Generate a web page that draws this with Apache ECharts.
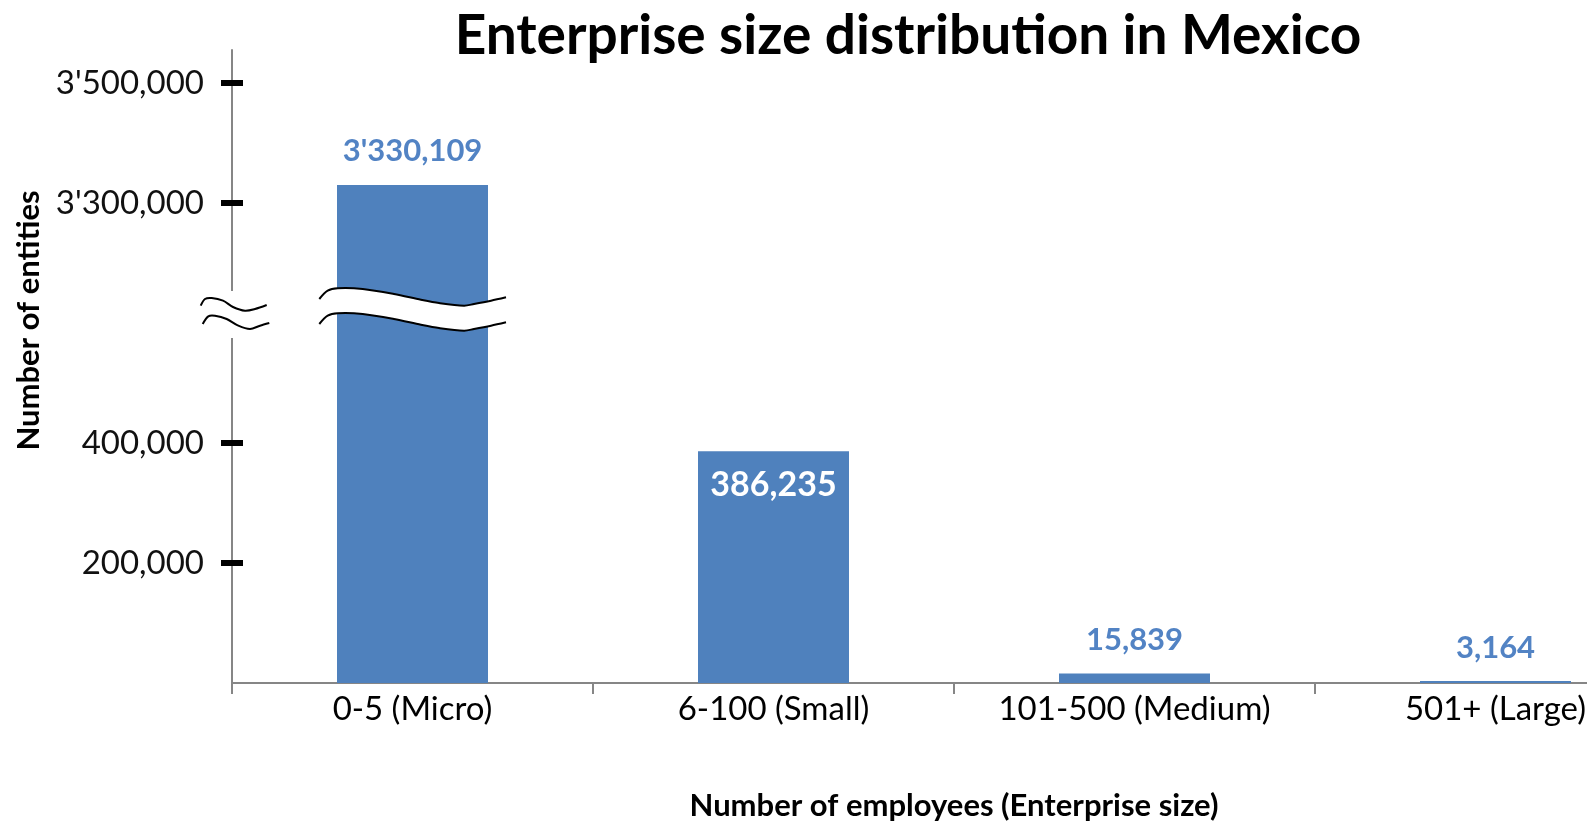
<!DOCTYPE html>
<html>
<head>
<meta charset="utf-8">
<script src="https://cdn.jsdelivr.net/npm/echarts@6/dist/echarts.min.js"></script>
<style>
  html, body { margin: 0; padding: 0; background: #fff; overflow: hidden; }
  body { width: 1587px; height: 822px; }
  /* the plot runs past the right edge of the page, so the canvas is wider */
  #chart { width: 1720px; height: 822px; }
</style>
</head>
<body>
<div id="chart"></div>
<script>
// Enterprise counts by size class
const categories = ['0-5 (Micro)', '6-100 (Small)', '101-500 (Medium)', '501+ (Large)'];
const entities = [3330109, 386235, 15839, 3164];
// Tick values shown on the value axis (real values)
const tickValues = [200000, 400000, 3300000, 3500000];

// Broken axis: everything above the break is shifted down by this amount
const BREAK_SHIFT = 2500000;
const BREAK_FROM = 700000;      // real values above this sit above the break
const BREAK_POS = 620000;       // plotted position of the break symbol
const AXIS_MAX = 1055000;       // plotted top of the axis

function toPlot(v) { return v > BREAK_FROM ? v - BREAK_SHIFT : v; }
function toReal(p) { return p > BREAK_FROM - 100000 ? p + BREAK_SHIFT : p; }

function fmt(n) {
  n = Math.round(n);
  const m = Math.floor(n / 1000000);
  const rest = n % 1000000;
  const th = Math.floor(rest / 1000);
  const un = rest % 1000;
  const pad = (x) => String(x).padStart(3, '0');
  if (m > 0) return m + "'" + pad(th) + ',' + pad(un);
  if (th > 0) return th + ',' + pad(un);
  return String(un);
}

const BAR = '#4F81BD';
const FONT = 'Lato, "Open Sans", sans-serif';
const tickPlot = tickValues.map(toPlot);

const chart = echarts.init(document.getElementById('chart'), null, { renderer: 'canvas' });

const seriesData = entities.map((v, i) => {
  const inside = i === 1;
  return {
    value: toPlot(v),
    label: inside
      ? { position: 'insideTop', distance: 17, color: '#ffffff', fontSize: 34 }
      : { position: 'top', distance: 18, color: '#5283C4' }
  };
});

chart.setOption({
  animation: false,
  backgroundColor: '#ffffff',
  textStyle: { fontFamily: FONT },
  title: {
    text: 'Enterprise size distribution in Mexico',
    left: 903,
    textAlign: 'center',
    top: 4,
    textStyle: { fontSize: 55, fontWeight: 'bold', color: '#000', fontFamily: FONT }
  },
  grid: { left: 232, top: 50, width: 1444, height: 633, containLabel: false, outerBoundsMode: 'none' },
  xAxis: {
    type: 'category',
    data: categories,
    axisLine: { lineStyle: { color: '#868686', width: 2 } },
    axisTick: { show: true, length: 11, lineStyle: { color: '#868686', width: 2 } },
    axisLabel: { interval: 0, fontSize: 33, color: '#000', margin: 10, fontFamily: FONT },
    name: 'Number of employees (Enterprise size)',
    nameLocation: 'middle',
    nameGap: 107,
    nameTextStyle: { fontSize: 31, fontWeight: 'bold', color: '#000', fontFamily: FONT }
  },
  yAxis: [
    {
      type: 'value',
      min: 0,
      max: AXIS_MAX,
      splitLine: { show: false },
      axisLine: { show: true, lineStyle: { color: '#868686', width: 2 } },
      axisTick: { show: true, length: 11, customValues: tickPlot, lineStyle: { color: '#000', width: 6 } },
      axisLabel: {
        customValues: tickPlot,
        fontSize: 33,
        color: '#111',
        margin: 28,
        fontFamily: FONT,
        formatter: (v) => fmt(toReal(v))
      },
      name: 'Number of entities',
      nameLocation: 'middle',
      nameGap: 188,
      nameTextStyle: { fontSize: 31, fontWeight: 'bold', color: '#000', fontFamily: FONT, padding: [0, 0, 0, 92] }
    },
    {
      type: 'value',
      position: 'left',
      min: 0,
      max: AXIS_MAX,
      splitLine: { show: false },
      axisLine: { show: false },
      axisLabel: { show: false },
      axisTick: { show: true, inside: true, length: 11, customValues: tickPlot, lineStyle: { color: '#000', width: 6 } }
    }
  ],
  series: [{
    type: 'bar',
    data: seriesData,
    barWidth: 151,
    itemStyle: { color: BAR },
    label: {
      show: true,
      fontSize: 31,
      fontWeight: 'bold',
      fontFamily: FONT,
      formatter: (p) => fmt(entities[p.dataIndex])
    }
  }]
});

// Break symbols: on the value axis and across the first bar
function drawBreak() {
  const ax = chart.convertToPixel({ gridIndex: 0 }, [0, BREAK_POS]);
  const axisX = chart.getModel().getComponent('grid', 0).coordinateSystem.getRect().x;
  const cy = ax[1];
  const cx = ax[0];
  const shift = (pts, ox, oy) => pts.map(p => [ox + p[0], oy + p[1]]);

  const barUpper = [[-93.2, -12], [-84.8, -20.3], [-74.8, -22.7], [-49.8, -22], [-18.5, -17],
    [8.5, -11.3], [26.5, -8], [51.5, -5.3], [61.5, -7], [78.5, -10.3], [93.5, -13.7]];
  const barLower = barUpper.map(p => [p[0], p[1] + 25]);
  const axisUpper = [[-31.3, -5.3], [-27, -12], [-20.3, -13], [-9, -10.3], [1, -4],
    [13, -0.3], [23, -2], [34.7, -6]];
  const axisLower = [[-29.3, 13], [-23.7, 5.3], [-17, 4.7], [-5.3, 8], [6.3, 14.7],
    [18, 18], [28, 14.7], [37.3, 12]];

  const line = { stroke: '#000', lineWidth: 2, fill: null };
  chart.setOption({
    graphic: [
      { type: 'rect', shape: { x: axisX - 5, y: cy - 20, width: 10, height: 47 },
        style: { fill: '#fff' }, silent: true, z: 100 },
      { type: 'polygon', shape: { points: shift(barUpper.concat(barLower.slice().reverse()), cx, cy), smooth: 0.25 },
        style: { fill: '#fff' }, silent: true, z: 100 },
      { type: 'polyline', shape: { points: shift(barUpper, cx, cy), smooth: 0.3 }, style: line, silent: true, z: 101 },
      { type: 'polyline', shape: { points: shift(barLower, cx, cy), smooth: 0.3 }, style: line, silent: true, z: 101 },
      { type: 'polyline', shape: { points: shift(axisUpper, axisX, cy), smooth: 0.3 }, style: line, silent: true, z: 101 },
      { type: 'polyline', shape: { points: shift(axisLower, axisX, cy), smooth: 0.3 }, style: line, silent: true, z: 101 }
    ]
  });
}
drawBreak();
</script>
</body>
</html>
